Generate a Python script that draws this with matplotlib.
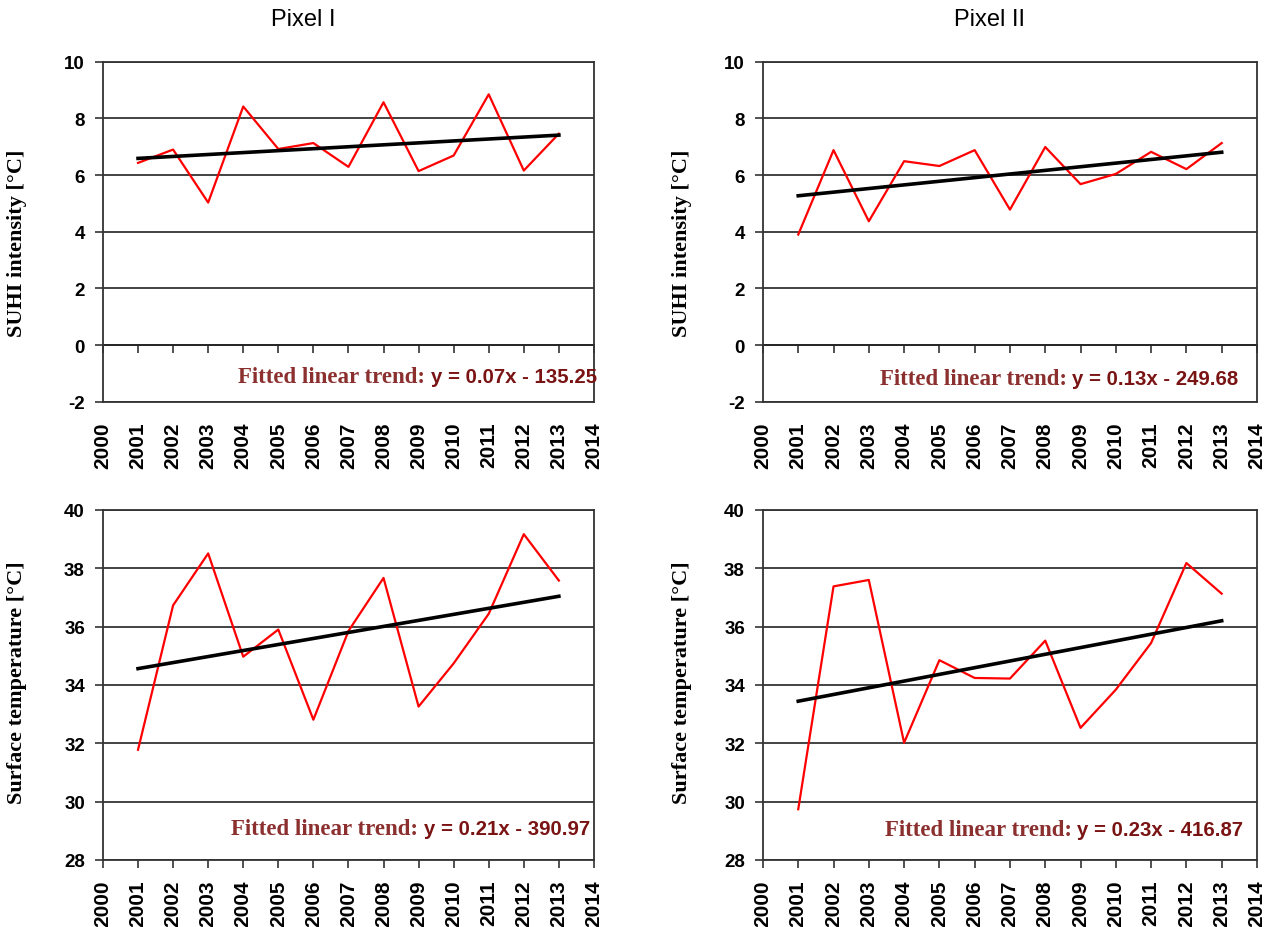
import numpy as np
import matplotlib.pyplot as plt

plt.rcParams['axes.unicode_minus'] = False

# Yearly values
years = np.arange(2001, 2014)
suhi_pixel1 = [6.43, 6.90, 5.03, 8.42, 6.92, 7.13, 6.29, 8.57, 6.14, 6.69, 8.85, 6.16, 7.46]
suhi_pixel2 = [3.90, 6.88, 4.37, 6.49, 6.32, 6.88, 4.78, 6.99, 5.68, 6.04, 6.82, 6.21, 7.13]
lst_pixel1 = [31.78, 36.73, 38.51, 34.97, 35.90, 32.81, 35.85, 37.67, 33.26, 34.74, 36.44, 39.17, 37.58]
lst_pixel2 = [29.74, 37.38, 37.60, 32.02, 34.85, 34.24, 34.22, 35.52, 32.53, 33.84, 35.44, 38.18, 37.13]

col_titles = ['Pixel I', 'Pixel II']
ylabels = ['SUHI intensity [\u00b0C]', 'Surface temperature [\u00b0C]']
trend_eqs = ['y = 0.07x - 135.25', 'y = 0.13x - 249.68',
             'y = 0.21x - 390.97', 'y = 0.23x - 416.87']
xticks = np.arange(2000, 2015)
suhi_ticks = np.arange(-2, 11, 2)
lst_ticks = np.arange(28, 41, 2)

sans = 'Liberation Sans'
serif = 'Liberation Serif'
grid_col = '#222222'

fig = plt.figure(figsize=(12.68, 9.28), dpi=100)

# axes boxes in figure fractions: [left, bottom, width, height]
boxes = [[0.0812, 0.566, 0.3872, 0.3664], [0.6017, 0.566, 0.3896, 0.3664],
         [0.0812, 0.0722, 0.3872, 0.3772], [0.6017, 0.0722, 0.3896, 0.3772]]
series = [suhi_pixel1, suhi_pixel2, lst_pixel1, lst_pixel2]
# (x right edge of equation, y centre) in axes fraction
ann_pos = [(1.006, 0.073), (0.962, 0.067), (0.992, 0.089), (0.972, 0.086)]
ylab_x = [-0.155, -0.144, -0.155, -0.144]
ylab_y = [0.47, 0.47, 0.51, 0.51]

for i in range(4):
    ax = fig.add_axes(boxes[i])
    top = i < 2
    vals = np.array(series[i])

    ax.plot(years, vals, color='#ff0000', lw=1.6, zorder=3)
    coef = np.polyfit(years, vals, 1)
    ax.plot(years, np.polyval(coef, years), color='black', lw=2.6, zorder=4)

    ax.set_xlim(2000, 2014)
    ticks = suhi_ticks if top else lst_ticks
    ax.set_ylim(ticks[0], ticks[-1])
    ax.set_yticks(ticks)
    ax.set_xticks(xticks)
    ax.yaxis.grid(True, color=grid_col, lw=1.2)
    ax.set_axisbelow(True)
    for s in ax.spines.values():
        s.set_color('#333333')
        s.set_linewidth(1.3)

    ax.tick_params(axis='y', direction='out', length=6, width=1.2, color='#333333', pad=7)
    for lab in ax.get_yticklabels():
        lab.set_fontfamily(sans)
        lab.set_fontweight('bold')
        lab.set_fontsize(13.5)

    if top:
        # year ticks hang from the zero line, labels stay at the bottom
        ax.tick_params(axis='x', length=0, pad=14)
        zero_frac = (0 - ticks[0]) / (ticks[-1] - ticks[0])
        sec = ax.secondary_xaxis(zero_frac)
        sec.set_xticks(xticks)
        sec.tick_params(axis='x', direction='out', length=6, width=1.2,
                        color='#333333', labelbottom=False)
        sec.spines['bottom'].set_color(grid_col)
        sec.spines['bottom'].set_linewidth(1.2)
    else:
        ax.tick_params(axis='x', direction='out', length=6, width=1.2,
                       color='#333333', pad=8)
    for lab in ax.get_xticklabels():
        lab.set_fontfamily(sans)
        lab.set_fontweight('bold')
        lab.set_fontsize(15)
        lab.set_rotation(90)

    ax.set_ylabel(ylabels[0] if top else ylabels[1], fontfamily=serif,
                  fontweight='bold', fontsize=16)
    ax.yaxis.set_label_coords(ylab_x[i], ylab_y[i])

    ex, ey = ann_pos[i]
    eq = ax.text(ex, ey, trend_eqs[i], transform=ax.transAxes, ha='right', va='center',
                 fontfamily=sans, fontweight='bold', fontsize=14.7, color='#7a1414',
                 zorder=5, clip_on=False)
    ax.annotate('Fitted linear trend:', xy=(0, 0.5), xycoords=eq,
                xytext=(-4, 0), textcoords='offset points', ha='right', va='center',
                fontfamily=serif, fontweight='bold', fontsize=16.5, color='#8b2f2f')

for j, t in enumerate(col_titles):
    fig.text([303 / 1268, 990 / 1268][j], 1 - 20 / 928, t, ha='center', va='center',
             fontfamily=sans, fontsize=17)

fig.savefig('out.png', dpi=100, facecolor='white')
